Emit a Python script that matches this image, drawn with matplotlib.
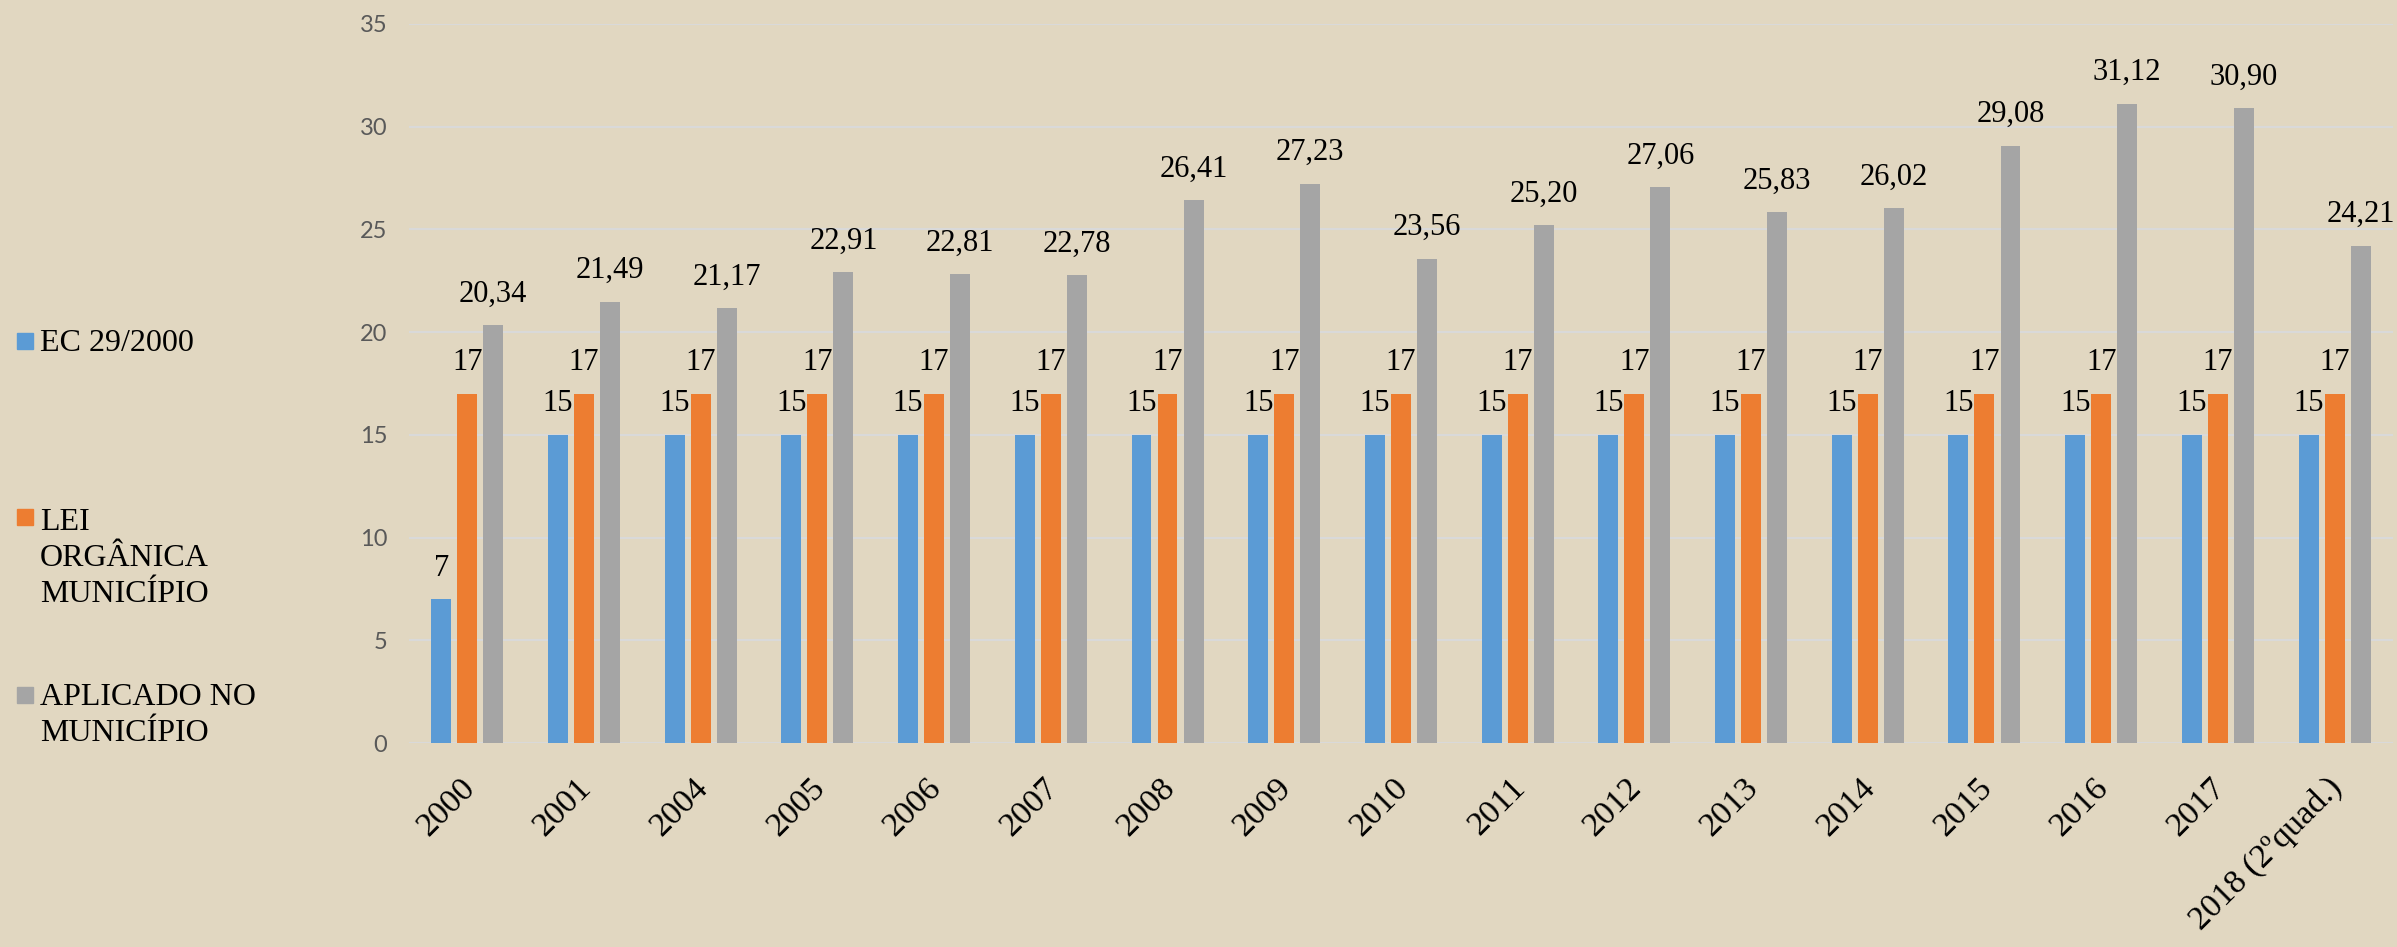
import numpy as np
import matplotlib
matplotlib.use("Agg")
import matplotlib.pyplot as plt
import matplotlib.transforms as mtransforms
from matplotlib.patches import Rectangle


# Chart data
categories = ["2000", "2001", "2004", "2005", "2006", "2007", "2008", "2009",
              "2010", "2011", "2012", "2013", "2014", "2015", "2016", "2017",
              "2018 (2ºquad.)"]
ec_29 = [7, 15, 15, 15, 15, 15, 15, 15, 15, 15, 15, 15, 15, 15, 15, 15, 15]
lei_organica = [17, 17, 17, 17, 17, 17, 17, 17, 17, 17, 17, 17, 17, 17, 17, 17, 17]
aplicado = [20.34, 21.49, 21.17, 22.91, 22.81, 22.78, 26.41, 27.23, 23.56,
            25.20, 27.06, 25.83, 26.02, 29.08, 31.12, 30.90, 24.21]
series_names = ["EC 29/2000", "LEI\nORGÂNICA\nMUNICÍPIO", "APLICADO NO\nMUNICÍPIO"]
y_ticks = [0, 5, 10, 15, 20, 25, 30, 35]

COLORS = ["#5B9BD5", "#ED7D31", "#A5A5A5"]
BG = "#E1D7C1"
SERIF = ["Liberation Serif", "DejaVu Serif"]


def main():
    fig = plt.figure(figsize=(23.97, 9.47), dpi=100, facecolor=BG)
    ax = fig.add_axes([0.1706, 0.2154, 0.8277, 0.7593])
    ax.set_facecolor("none")

    x = np.arange(len(categories))
    step = 0.223
    width = 0.171
    all_series = [ec_29, lei_organica, aplicado]
    for i, (vals, color) in enumerate(zip(all_series, COLORS)):
        bars = ax.bar(x + (i - 1) * step, vals, width, color=color, zorder=3)
        if i == 2:
            labels = [f"{v:.2f}".replace(".", ",") for v in vals]
        else:
            labels = [str(v) for v in vals]
        ax.bar_label(bars, labels=labels, padding=12, fontsize=22,
                     family=SERIF, color="black", zorder=4)

    ax.set_xlim(-0.5, len(categories) - 0.5)
    ax.set_ylim(0, 35)
    ax.set_yticks(y_ticks)
    ax.yaxis.grid(True, color="#D9D9D9", linewidth=1.5, zorder=0)
    for s in ax.spines.values():
        s.set_visible(False)
    ax.tick_params(axis="y", length=0, pad=15.5, labelsize=17, labelcolor="#595959")
    for lab in ax.get_yticklabels():
        lab.set_family("Lato")

    ax.set_xticks(x)
    ax.set_xticklabels(categories, rotation=45, ha="right", va="top",
                       rotation_mode="anchor", fontsize=24.5, family=SERIF)
    ax.tick_params(axis="x", length=0, pad=21)
    offset = mtransforms.ScaledTranslation(-8 / 100, 0, fig.dpi_scale_trans)
    for lab in ax.get_xticklabels():
        lab.set_transform(lab.get_transform() + offset)

    # legend on the left, drawn by hand so the marker sits on the first line
    W, H = 2397, 947
    legend_rows = [(333, 351), (509, 602), (687, 741)]
    for (marker_top, baseline), name, color in zip(legend_rows, series_names, COLORS):
        fig.add_artist(Rectangle((17 / W, 1 - (marker_top + 16) / H), 16 / W, 16 / H,
                                 transform=fig.transFigure, color=color))
        fig.text(40 / W, 1 - baseline / H, name, fontsize=23, family=SERIF,
                 va="baseline", ha="left", linespacing=1.32)

    fig.savefig("out.png", dpi=100, facecolor=BG)


if __name__ == '__main__':
    main()
